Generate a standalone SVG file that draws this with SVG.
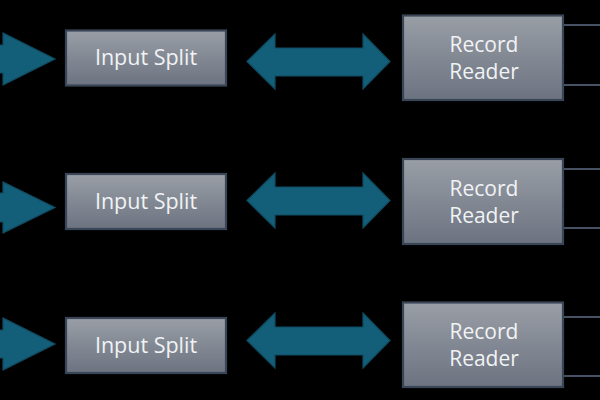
<svg xmlns="http://www.w3.org/2000/svg" width="600" height="400" viewBox="0 0 600 400">
  <defs>
    <linearGradient id="boxGrad" x1="0" y1="0" x2="0" y2="1">
      <stop offset="0" stop-color="#999ea6"/>
      <stop offset="1" stop-color="#6c7380"/>
    </linearGradient>
    <style>
      .box { fill: url(#boxGrad); stroke: #3a4657; stroke-width: 2.2; }
      .lbl { font-family: "Open Sans", "Noto Sans", "Liberation Sans", sans-serif; font-size: 21.5px; fill: #f1f3f5; text-anchor: middle; }
      .rr { font-size: 21px; }
      .arrow { fill: #135e78; stroke: #0f4c62; stroke-width: 1.2; stroke-linejoin: miter; }
      .tail { stroke: #465263; stroke-width: 2.2; fill: none; }
    </style>
  </defs>
  <rect width="600" height="400" fill="#000000"/>

  <g id="connectors">
    <!-- incoming arrows on the left -->
    <polygon class="arrow" points="-5,45 3,45 3,33 55,59 3,85 3,73 -5,73"/>
    <polygon class="arrow" points="-5,193 3,193 3,182 55,207.5 3,233 3,222 -5,222"/>
    <polygon class="arrow" points="-5,330 3,330 3,318 55,344 3,370 3,358 -5,358"/>
    <!-- double arrows -->
    <polygon class="arrow" points="247,61.5 275,34 275,48 363,48 363,34 390,61.5 363,89 363,76 275,76 275,89"/>
    <polygon class="arrow" points="247,200.5 275,173 275,187 363,187 363,173 390,200.5 363,228 363,215 275,215 275,228"/>
    <polygon class="arrow" points="247,340.5 275,313 275,327 363,327 363,313 390,340.5 363,368 363,355 275,355 275,368"/>
    <!-- outgoing lines on the right -->
    <line class="tail" x1="563" y1="25" x2="600" y2="25"/>
    <line class="tail" x1="563" y1="85" x2="600" y2="85"/>
    <line class="tail" x1="563" y1="169" x2="600" y2="169"/>
    <line class="tail" x1="563" y1="228" x2="600" y2="228"/>
    <line class="tail" x1="563" y1="317" x2="600" y2="317"/>
    <line class="tail" x1="563" y1="376" x2="600" y2="376"/>
  </g>

  <g id="input-split-1">
    <rect class="box" x="66" y="30.5" width="160" height="55"/>
    <text class="lbl" x="146" y="65">Input Split</text>
  </g>
  <g id="input-split-2">
    <rect class="box" x="66" y="174" width="160" height="55"/>
    <text class="lbl" x="146" y="208.5">Input Split</text>
  </g>
  <g id="input-split-3">
    <rect class="box" x="66" y="318" width="160" height="55"/>
    <text class="lbl" x="146" y="352.5">Input Split</text>
  </g>

  <g id="record-reader-1">
    <rect class="box" x="403" y="15.5" width="160" height="84.5"/>
    <text class="lbl rr" x="484" y="51.5">Record</text>
    <text class="lbl rr" x="484" y="78.5">Reader</text>
  </g>
  <g id="record-reader-2">
    <rect class="box" x="403" y="159" width="160" height="85"/>
    <text class="lbl rr" x="484" y="195.5">Record</text>
    <text class="lbl rr" x="484" y="222.5">Reader</text>
  </g>
  <g id="record-reader-3">
    <rect class="box" x="403" y="302.5" width="160" height="84.5"/>
    <text class="lbl rr" x="484" y="338.5">Record</text>
    <text class="lbl rr" x="484" y="365.5">Reader</text>
  </g>
</svg>
